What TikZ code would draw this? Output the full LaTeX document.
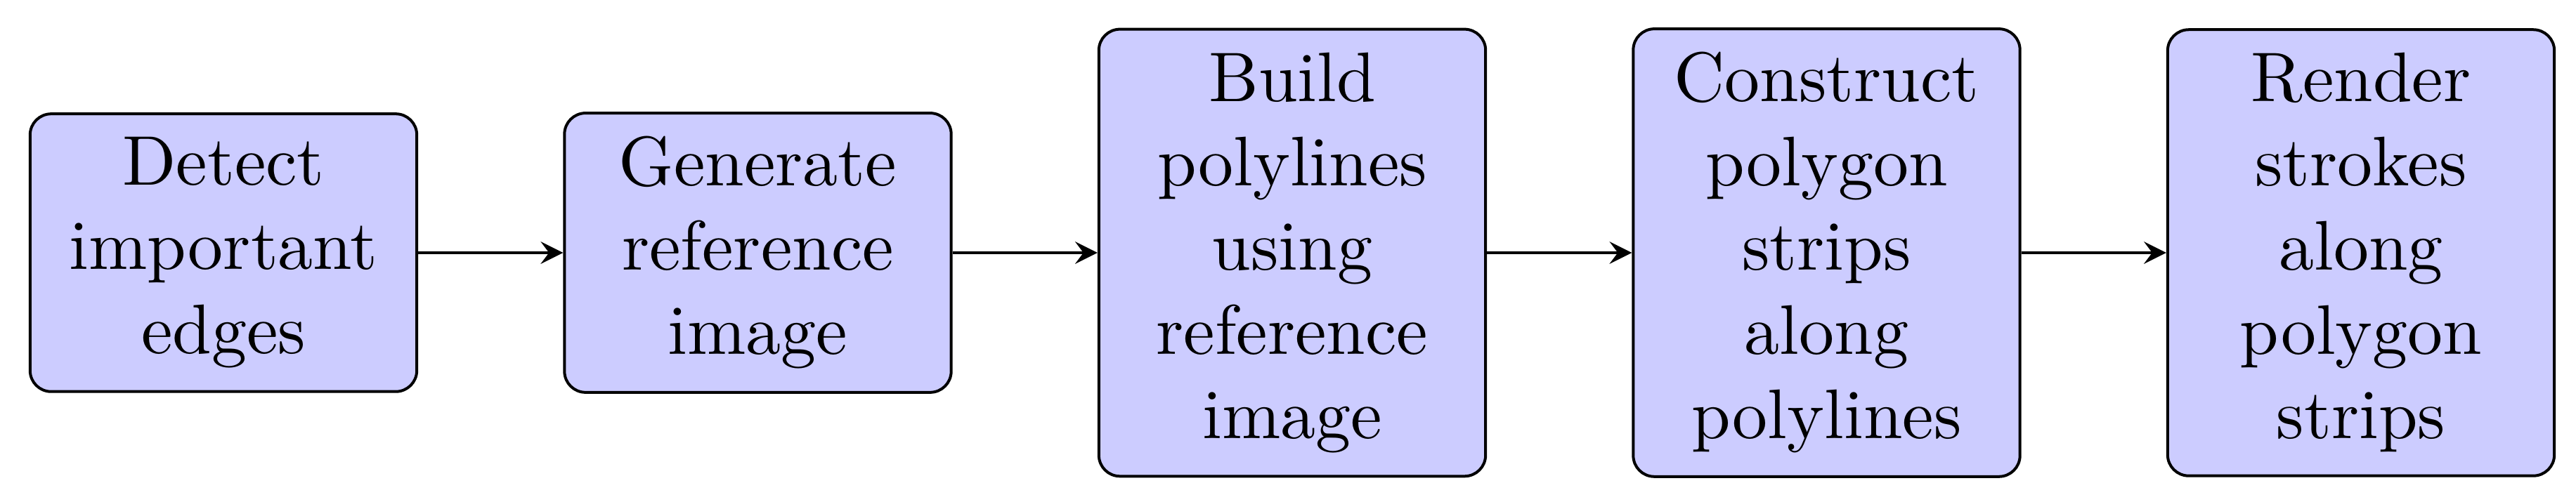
\documentclass[tikz,border=0pt]{standalone}
\usetikzlibrary{arrows}
\tikzset{
  stepbox/.style={draw=black, fill=blue!20, rounded corners=3pt, text width=1.7cm, align=center, inner sep=0.3333em},
  flow/.style={draw=black, -stealth}
}
\begin{document}
\begin{tikzpicture}
\useasboundingbox (0,0) rectangle (366.6pt,71.5pt);
\node[stepbox] (a) at (31.8pt,35.5pt) {Detect important edges};
\node[stepbox] (b) at (107.85pt,35.5pt) {Generate reference image};
\node[stepbox] (c) at (183.9pt,35.5pt) {Build polylines using reference image};
\node[stepbox] (d) at (259.95pt,35.5pt) {Construct polygon strips along polylines};
\node[stepbox] (e) at (336.0pt,35.5pt) {Render strokes along polygon strips};
\draw[flow] (a) -- (b);
\draw[flow] (b) -- (c);
\draw[flow] (c) -- (d);
\draw[flow] (d) -- (e);
\end{tikzpicture}
\end{document}
